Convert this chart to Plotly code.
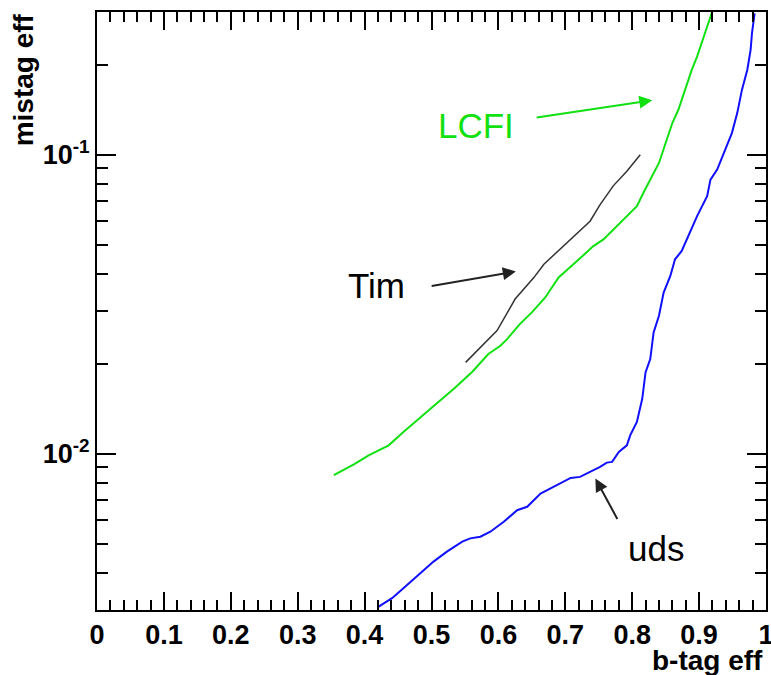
import numpy as np
import plotly.graph_objects as go

# LCFI (green)
lcfi_x = [0.354, 0.384, 0.406, 0.436, 0.458, 0.488, 0.513, 0.536, 0.561, 0.585, 0.603, 0.613,
          0.632, 0.650, 0.670, 0.690, 0.715, 0.742, 0.757, 0.780, 0.792, 0.807, 0.817, 0.830,
          0.840, 0.850, 0.860, 0.869, 0.879, 0.889, 0.897, 0.904, 0.912, 0.919]
lcfi_y = [0.00847, 0.00921, 0.00987, 0.01066, 0.01181, 0.01349, 0.01506, 0.01669, 0.01880,
          0.02154, 0.02296, 0.02416, 0.02712, 0.02968, 0.03330, 0.03882, 0.04355, 0.04946,
          0.05208, 0.05843, 0.06228, 0.06726, 0.0747, 0.0847, 0.0938, 0.1094, 0.1276, 0.1413,
          0.1647, 0.1920, 0.2127, 0.2386, 0.2678, 0.2980]

# Tim (black)
tim_x = [0.551, 0.573, 0.598, 0.625, 0.653, 0.668, 0.705, 0.737, 0.752, 0.772, 0.792, 0.812]
tim_y = [0.0202, 0.0227, 0.0258, 0.0329, 0.0388, 0.0430, 0.0514, 0.0599, 0.0681, 0.0788,
         0.0880, 0.100]

# uds (blue)
uds_x = [0.421, 0.441, 0.458, 0.481, 0.503, 0.523, 0.546, 0.558, 0.573, 0.588, 0.608, 0.628,
         0.643, 0.663, 0.688, 0.708, 0.722, 0.737, 0.752, 0.762, 0.770, 0.780, 0.792, 0.797,
         0.807, 0.815, 0.820, 0.827, 0.832, 0.840, 0.847, 0.857, 0.864, 0.874, 0.884, 0.897,
         0.912, 0.917, 0.927, 0.939, 0.949, 0.957, 0.964, 0.972, 0.977, 0.979, 0.983]
uds_y = [0.00308, 0.003286, 0.003548, 0.003929, 0.004355, 0.004703, 0.005078, 0.005208,
         0.005277, 0.005483, 0.005920, 0.006471, 0.006642, 0.007356, 0.007839, 0.008298,
         0.008362, 0.008690, 0.009030, 0.009333, 0.009383, 0.01013, 0.01066, 0.01151,
         0.01276, 0.01526, 0.01872, 0.02073, 0.02544, 0.02891, 0.03459, 0.03929, 0.04467,
         0.04762, 0.05342, 0.06228, 0.07261, 0.08254, 0.08913, 0.1039, 0.1181, 0.1377,
         0.1647, 0.1920, 0.2239, 0.2544, 0.2967]

x_ticks = [0, 0.1, 0.2, 0.3, 0.4, 0.5, 0.6, 0.7, 0.8, 0.9, 1]
x_ticklabels = ["0", "0.1", "0.2", "0.3", "0.4", "0.5", "0.6", "0.7", "0.8", "0.9", "1"]
y_ticks = [0.01, 0.1]
y_ticklabels = ["10<sup>-2</sup>", "10<sup>-1</sup>"]
y_minor = [0.003, 0.004, 0.005, 0.006, 0.007, 0.008, 0.009,
           0.02, 0.03, 0.04, 0.05, 0.06, 0.07, 0.08, 0.09, 0.2, 0.3]

GREEN = "#11e011"
BLUE = "#1010ff"
FONT = "Liberation Sans"

fig = go.Figure()
fig.add_trace(go.Scatter(x=lcfi_x, y=lcfi_y, mode="lines",
                         line=dict(color=GREEN, width=2), showlegend=False))
fig.add_trace(go.Scatter(x=tim_x, y=tim_y, mode="lines",
                         line=dict(color="#333333", width=1.5), showlegend=False))
fig.add_trace(go.Scatter(x=uds_x, y=uds_y, mode="lines",
                         line=dict(color=BLUE, width=2), showlegend=False))

ylo, yhi = np.log10(0.003), np.log10(0.3)

fig.update_layout(
    width=771, height=675,
    margin=dict(l=97, r=5, t=12, b=65, autoexpand=False),
    paper_bgcolor="white", plot_bgcolor="white",
    xaxis=dict(range=[0, 1], tickvals=x_ticks, ticktext=x_ticklabels,
               ticks="inside", ticklen=18, tickwidth=2, tickcolor="black",
               showline=True, linewidth=2, linecolor="black", mirror="ticks",
               showgrid=False, zeroline=False, ticklabeloverflow="allow",
               automargin=False,
               tickfont=dict(family=FONT, size=27, color="black", weight="bold"),
               minor=dict(dtick=0.02, tick0=0, ticks="inside", ticklen=10, tickwidth=2,
                          tickcolor="black", showgrid=False)),
    yaxis=dict(type="log", range=[ylo, yhi], tickvals=y_ticks, ticktext=y_ticklabels,
               ticks="inside", ticklen=19, tickwidth=2, tickcolor="black",
               showline=True, linewidth=2, linecolor="black", mirror="ticks",
               showgrid=False, zeroline=False, ticklabeloverflow="allow",
               automargin=False,
               tickfont=dict(family=FONT, size=27, color="black", weight="bold"),
               minor=dict(tickvals=y_minor, ticks="inside", ticklen=11, tickwidth=2,
                          tickcolor="black", showgrid=False)),
)

annotations = [
    dict(text="<b>b-tag eff</b>", xref="paper", yref="paper", x=0.998, y=-0.055,
         xanchor="right", yanchor="top", showarrow=False,
         font=dict(family=FONT, size=28, color="black")),
    dict(text="<b>mistag eff</b>", xref="paper", yref="paper", x=-0.11, y=1.001,
         xanchor="center", yanchor="top", textangle=-90, showarrow=False,
         font=dict(family=FONT, size=28, color="black")),
    # labels
    dict(text="LCFI", x=0.566, y=np.log10(0.125), xref="x", yref="y", showarrow=False,
         font=dict(family=FONT, size=35, color=GREEN)),
    dict(text="Tim", x=0.418, y=np.log10(0.0365), xref="x", yref="y", showarrow=False,
         font=dict(family=FONT, size=35, color="black")),
    dict(text="uds", x=0.836, y=np.log10(0.0048), xref="x", yref="y", showarrow=False,
         font=dict(family=FONT, size=35, color="black")),
    # arrows
    dict(text="", x=0.830, y=np.log10(0.152), ax=0.655, ay=np.log10(0.133),
         xref="x", yref="y", axref="x", ayref="y", showarrow=True,
         arrowhead=2, arrowsize=1.3, arrowwidth=2, arrowcolor=GREEN),
    dict(text="", x=0.626, y=np.log10(0.0407), ax=0.498, ay=np.log10(0.0363),
         xref="x", yref="y", axref="x", ayref="y", showarrow=True,
         arrowhead=2, arrowsize=1.3, arrowwidth=2, arrowcolor="#222222"),
    dict(text="", x=0.745, y=np.log10(0.00826), ax=0.779, ay=np.log10(0.00598),
         xref="x", yref="y", axref="x", ayref="y", showarrow=True,
         arrowhead=2, arrowsize=1.3, arrowwidth=2, arrowcolor="#222222"),
]
fig.update_layout(annotations=annotations)

fig.write_html("out.html")
